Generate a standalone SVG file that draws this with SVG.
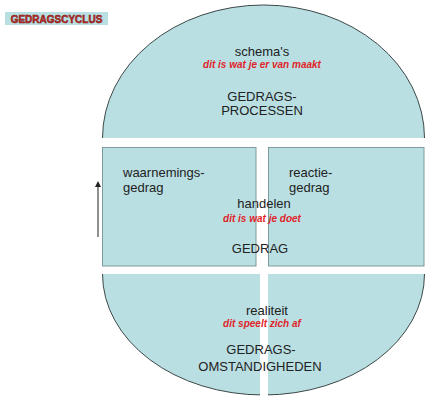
<svg xmlns="http://www.w3.org/2000/svg" width="427" height="397" viewBox="0 0 427 397">
<defs>
<style>
.fill{fill:#b9dfe2;stroke:none}
.arc{fill:none;stroke:#3c4848;stroke-width:1}
.box{fill:#b9dfe2;stroke:#7f9a9c;stroke-width:1}
.t{font-family:"Liberation Sans",Arial,sans-serif;font-size:13px;fill:#222}
.c{text-anchor:middle}
.r{font-family:"Liberation Sans",Arial,sans-serif;font-size:10px;font-weight:bold;font-style:italic;fill:#e0242a;text-anchor:middle}
</style>
<marker id="ah" markerWidth="6" markerHeight="6" refX="3" refY="3" orient="auto" markerUnits="userSpaceOnUse">
<path d="M0,0 L6,3 L0,6 Z" fill="#222"/>
</marker>
</defs>
<rect width="427" height="397" fill="#ffffff"/>
<g id="title">
<rect x="5" y="12" width="103" height="13" fill="#b9dfe2"/>
<text x="56.5" y="22.5" text-anchor="middle" font-family="'Liberation Sans',Arial,sans-serif" font-size="10" font-weight="bold" fill="#d42a24" stroke="#6a1a18" stroke-width="0.5">GEDRAGSCYCLUS</text>
</g>
<g id="processen">
<path class="fill" d="M102.5 138 A161 133 0 0 1 424.5 138 Z"/>
<path class="arc" d="M102.5 138 A161 133 0 0 1 424.5 138"/>
<text class="t c" x="262" y="56">schema's</text>
<text class="r" x="262" y="68">dit is wat je er van maakt</text>
<text class="t c" x="262" y="101">GEDRAGS-</text>
<text class="t c" x="262" y="115">PROCESSEN</text>
</g>
<g id="waarnemingsgedrag">
<rect class="box" x="102.5" y="147.5" width="153.5" height="118.5"/>
<text class="t" x="123" y="177">waarnemings-</text>
<text class="t" x="123" y="192">gedrag</text>
</g>
<g id="reactiegedrag">
<rect class="box" x="268.5" y="147.5" width="155.5" height="118.5"/>
<text class="t" x="289" y="177">reactie-</text>
<text class="t" x="289" y="192">gedrag</text>
</g>
<g id="gedrag">
<text class="t c" x="264" y="208">handelen</text>
<text class="r" x="262" y="222">dit is wat je doet</text>
<text class="t c" x="260" y="253">GEDRAG</text>
</g>
<g id="omstandigheden">
<path class="fill" d="M102.5 274 A161 121 0 0 0 424.5 274 Z"/>
<path class="arc" d="M102.5 274 A161 121 0 0 0 424.5 274"/>
<rect x="260" y="273" width="8" height="124" fill="#ffffff"/>
<text class="t c" x="267" y="315">realiteit</text>
<text class="r" x="262" y="327">dit speelt zich af</text>
<text class="t c" x="261" y="354">GEDRAGS-</text>
<text class="t c" x="260" y="371">OMSTANDIGHEDEN</text>
</g>
<g id="connectors">
<line x1="98" y1="237" x2="98" y2="184" stroke="#222" stroke-width="1" marker-end="url(#ah)"/>
</g>
</svg>
